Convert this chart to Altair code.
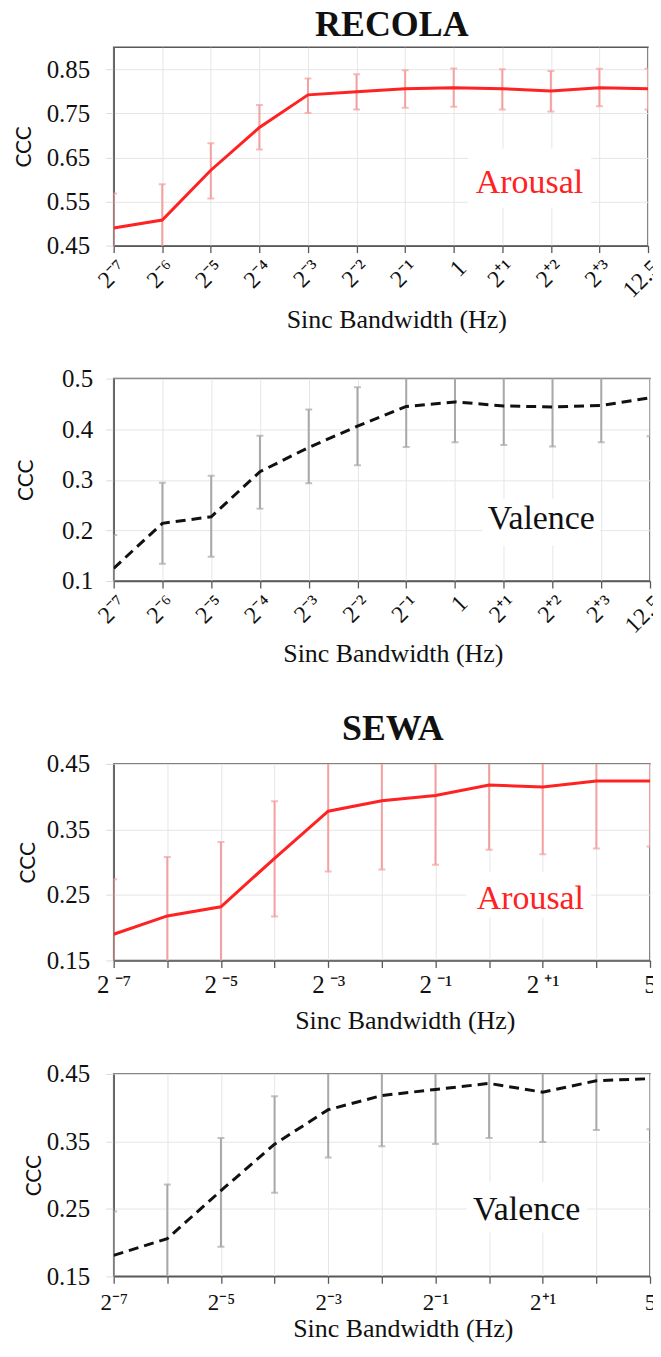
import json
import altair as alt
import pandas as pd

# ---------------- data ----------------
recola_ticks = ["2⁻⁷", "2⁻⁶", "2⁻⁵", "2⁻⁴", "2⁻³", "2⁻²", "2⁻¹", "1", "2⁺¹", "2⁺²", "2⁺³", "12.5"]
sewa_ticks_a = ["2\u2009⁻⁷", "", "2\u2009⁻⁵", "", "2\u2009⁻³", "", "2\u2009⁻¹", "", "2\u2009⁺¹", "", "5"]
sewa_ticks_v = ["2⁻⁷", "", "2⁻⁵", "", "2⁻³", "", "2⁻¹", "", "2⁺¹", "", "5"]

recola_arousal = [0.490, 0.508, 0.621, 0.718, 0.792, 0.799, 0.806, 0.808, 0.806, 0.801, 0.808, 0.806]
recola_arousal_lo = [0.412, 0.427, 0.557, 0.668, 0.751, 0.759, 0.763, 0.765, 0.759, 0.754, 0.766, 0.759]
recola_arousal_hi = [0.568, 0.589, 0.682, 0.769, 0.829, 0.839, 0.848, 0.852, 0.850, 0.846, 0.851, 0.851]

recola_valence = [0.125, 0.214, 0.227, 0.316, 0.364, 0.406, 0.445, 0.454, 0.446, 0.444, 0.447, 0.462]
recola_valence_lo = [0.059, 0.134, 0.148, 0.243, 0.293, 0.329, 0.365, 0.374, 0.369, 0.366, 0.374, 0.386]
recola_valence_hi = [0.191, 0.294, 0.308, 0.387, 0.439, 0.483, 0.525, 0.534, 0.523, 0.522, 0.520, 0.538]

sewa_arousal = [0.190, 0.218, 0.232, 0.306, 0.378, 0.394, 0.402, 0.418, 0.415, 0.424, 0.424]
sewa_arousal_lo = [0.106, 0.128, 0.133, 0.217, 0.286, 0.289, 0.296, 0.319, 0.312, 0.321, 0.324]
sewa_arousal_hi = [0.274, 0.308, 0.331, 0.393, 0.470, 0.499, 0.508, 0.517, 0.518, 0.527, 0.524]

sewa_valence = [0.181, 0.206, 0.277, 0.346, 0.397, 0.418, 0.427, 0.436, 0.423, 0.440, 0.443]
sewa_valence_lo = [0.116, 0.126, 0.194, 0.274, 0.326, 0.343, 0.346, 0.355, 0.349, 0.367, 0.368]
sewa_valence_hi = [0.246, 0.286, 0.355, 0.417, 0.468, 0.493, 0.508, 0.517, 0.497, 0.513, 0.518]

# annotation label positions (in data units: x index, CCC value) and the white box behind them
ann_text = ["Arousal", "Valence", "Arousal", "Valence"]
ann_x = [8.56, 8.77, 7.77, 7.70]
ann_y = [0.570, 0.202, 0.229, 0.234]
box_x = [7.29, 7.56, 6.58, 6.59]
box_x2 = [9.83, 9.97, 8.90, 8.83]
box_y = [0.535, 0.170, 0.215, 0.215]
box_y2 = [0.670, 0.262, 0.285, 0.290]

SERIF = "Liberation Serif"
RED = "#ff2222"
RED_ERR = "#f4a0a0"
GRAY_ERR = "#a8a8a8"
FRAME = "#595959"
GRID = "#e6e6e6"


def panel(k, ticks, mean, lo, hi, ydom, yvals, yfmt, line_color, err_color, dash,
          text_color, width, height, ccc_x, label_pad_y, x_label_size, x_label_angle,
          x_label_pad, x_title_x, x_title_y, title=None):
    n = len(ticks)
    df = pd.DataFrame({"i": list(range(n)), "m": mean, "lo": lo, "hi": hi})
    ann = pd.DataFrame({"i": [ann_x[k]], "m": [ann_y[k]], "t": [ann_text[k]]})
    box = pd.DataFrame({"i": [box_x[k]], "i2": [box_x2[k]], "m": [box_y[k]], "m2": [box_y2[k]]})

    xaxis = alt.Axis(
        values=list(range(n)),
        labelExpr=json.dumps(ticks, ensure_ascii=False) + "[datum.value]",
        labelAngle=x_label_angle, labelFont=SERIF, labelFontSize=x_label_size,
        labelColor="#111111", labelOverlap=False, labelFlush=False, labelPadding=x_label_pad,
        tickColor=FRAME, tickSize=7, tickWidth=1.3,
        domainColor=FRAME, domainWidth=1.5,
        grid=True, gridColor=GRID, gridWidth=1,
        title="Sinc Bandwidth (Hz)", titleFont=SERIF, titleFontSize=26,
        titleFontWeight="normal", titleColor="#111111",
        titleX=x_title_x, titleY=x_title_y, titleBaseline="alphabetic", titleAlign="center",
    )
    yaxis = alt.Axis(
        values=yvals, format=yfmt,
        labelFont=SERIF, labelFontSize=25, labelColor="#111111", labelPadding=label_pad_y,
        tickColor="#dcdcdc", tickSize=8, tickWidth=1,
        domainColor=FRAME, domainWidth=1.5,
        grid=True, gridColor=GRID, gridWidth=1,
        title="CCC", titleFont="Lato", titleFontSize=21, titleFontWeight="normal",
        titleColor="#111111", titleAngle=270, titleBaseline="alphabetic", titleAlign="center",
        titleX=ccc_x, titleY=height / 2,
    )
    xs = alt.Scale(domain=[0, n - 1], nice=False, zero=False)
    ys = alt.Scale(domain=ydom, nice=False, zero=False)
    X = alt.X("i:Q", scale=xs, axis=xaxis)

    boxes = alt.Chart(box).mark_rect(fill="white", stroke=None).encode(
        x=X, x2="i2:Q", y=alt.Y("m:Q", scale=ys, axis=yaxis), y2="m2:Q")
    bars = alt.Chart(df).mark_rule(color=err_color, strokeWidth=2, clip=True).encode(
        x=X, y=alt.Y("lo:Q", scale=ys, axis=yaxis), y2="hi:Q")
    caps_lo = alt.Chart(df).mark_tick(color=err_color, size=7, thickness=2, orient="horizontal",
                                      clip=True).encode(x=X, y=alt.Y("lo:Q", scale=ys, axis=yaxis))
    caps_hi = alt.Chart(df).mark_tick(color=err_color, size=7, thickness=2, orient="horizontal",
                                      clip=True).encode(x=X, y=alt.Y("hi:Q", scale=ys, axis=yaxis))
    line_kw = dict(color=line_color, strokeWidth=3, clip=True)
    if dash:
        line_kw["strokeDash"] = dash
    line = alt.Chart(df).mark_line(**line_kw).encode(x=X, y=alt.Y("m:Q", scale=ys, axis=yaxis))
    text = alt.Chart(ann).mark_text(font=SERIF, fontSize=34, color=text_color, align="center",
                                    baseline="alphabetic").encode(
        x=X, y=alt.Y("m:Q", scale=ys, axis=yaxis), text="t:N")

    ch = alt.layer(boxes, bars, caps_lo, caps_hi, line, text).properties(width=width, height=height)
    if title is not None:
        ch = ch.properties(title=title)
    return ch


p1 = panel(0, recola_ticks, recola_arousal, recola_arousal_lo, recola_arousal_hi,
           [0.45, 0.9], [0.45, 0.55, 0.65, 0.75, 0.85], ".2f", RED, RED_ERR, None, RED,
           536, 199, -83, 16, 24, -45, 3, 283.5, 82,
           title=alt.TitleParams("RECOLA", font=SERIF, fontSize=36, fontWeight="bold",
                                 color="#111111", anchor="middle", dx=11, offset=-24.4,
                                 baseline="alphabetic", frame="group"))
p2 = panel(1, recola_ticks, recola_valence, recola_valence_lo, recola_valence_hi,
           [0.1, 0.5], [0.1, 0.2, 0.3, 0.4, 0.5], ".1f", "#111111", GRAY_ERR, [10, 6], "#111111",
           538, 203, -81, 13, 24, -45, 3, 280, 80.7)
p3 = panel(2, sewa_ticks_a, sewa_arousal, sewa_arousal_lo, sewa_arousal_hi,
           [0.15, 0.45], [0.15, 0.25, 0.35, 0.45], ".2f", RED, RED_ERR, None, RED,
           538, 197, -79, 16, 25, 0, 5, 292, 68,
           title=alt.TitleParams("SEWA", font=SERIF, fontSize=36, fontWeight="bold",
                                 color="#111111", anchor="middle", dx=11, offset=-23.6,
                                 baseline="alphabetic", frame="group"))
p4 = panel(3, sewa_ticks_v, sewa_valence, sewa_valence_lo, sewa_valence_hi,
           [0.15, 0.45], [0.15, 0.25, 0.35, 0.45], ".2f", "#111111", GRAY_ERR, [10, 6], "#111111",
           538, 203, -73, 16, 23, 0, 8, 290, 60.3)

recola = alt.vconcat(p1, p2, spacing=32.4)
sewa = alt.vconcat(p3, p4, spacing=26.9)
chart = alt.vconcat(recola, sewa, spacing=42).properties(
    padding={"left": 5, "top": -4.7, "right": -15, "bottom": 0},
    background="white",
).configure_view(stroke=FRAME, strokeWidth=1.5)

chart.save("out.html", embed_options={"renderer": "svg", "actions": False})
